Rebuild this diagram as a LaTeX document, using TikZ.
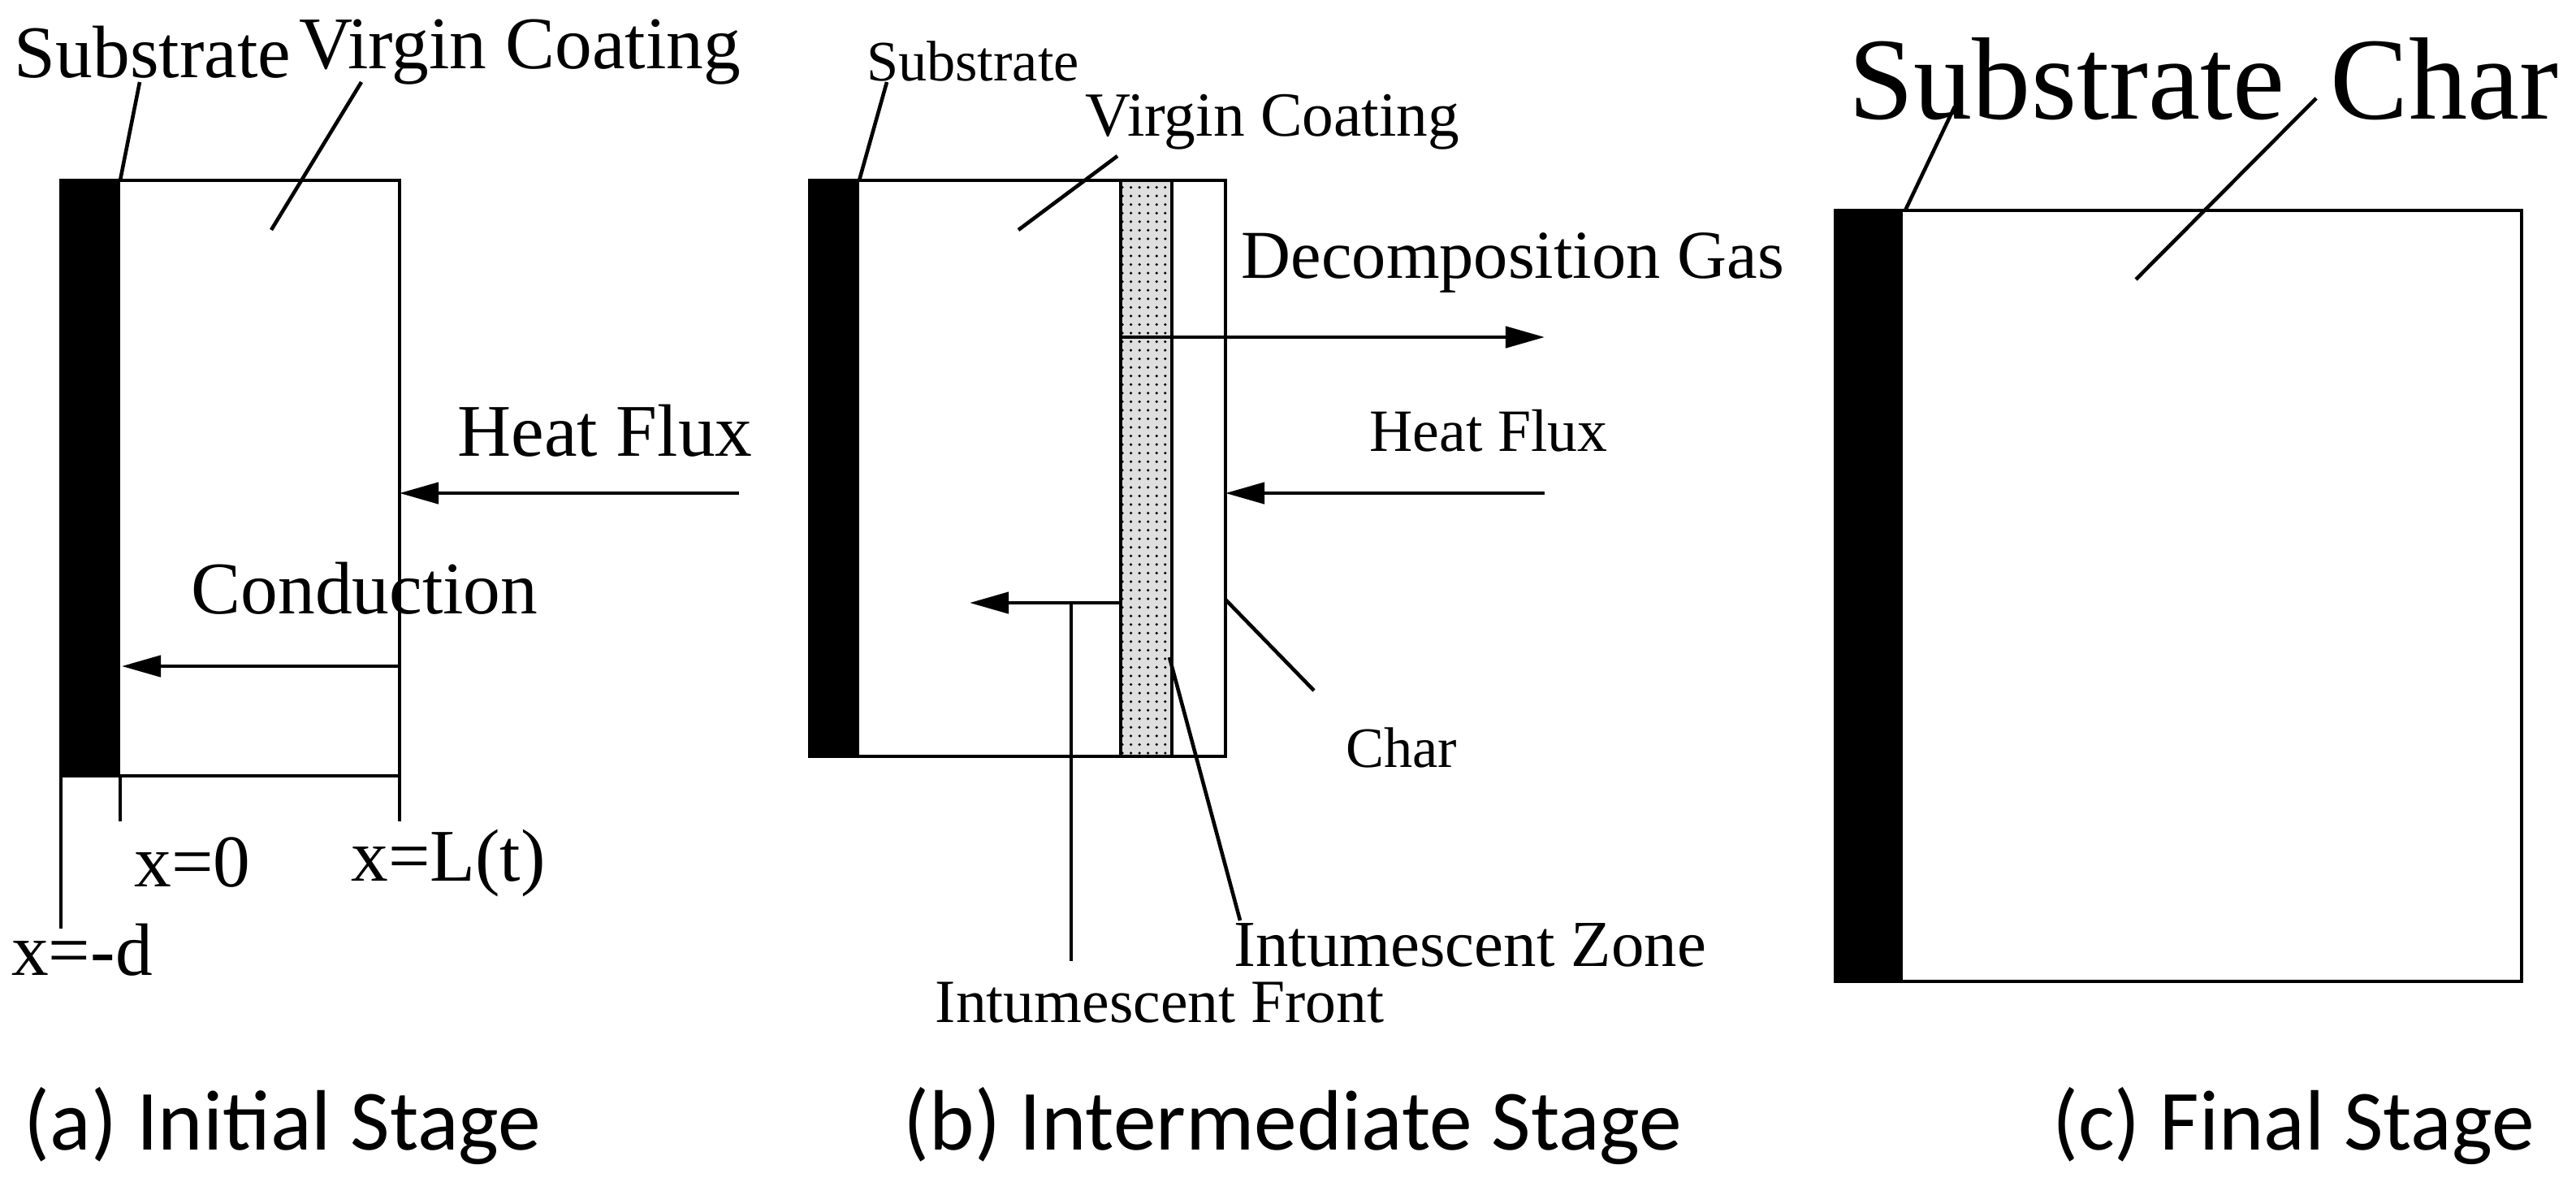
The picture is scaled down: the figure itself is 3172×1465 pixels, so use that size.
\documentclass[tikz,border=0pt]{standalone}
\usepackage{fontspec}
\setmainfont{Liberation Serif}
\newfontfamily\capfont{Carlito}
\usetikzlibrary{arrows.meta,patterns}
\begin{document}
\begin{tikzpicture}[x=0.01cm,y=-0.01cm,
  ln/.style={line width=1.3pt},
  arr/.style={ln,-{Triangle[length=0.48cm,width=0.26cm]}},
  ta/.style={font=\fontsize{26}{26}\selectfont,inner sep=0pt},
  tb/.style={font=\fontsize{20}{20}\selectfont,inner sep=0pt},
  tc/.style={font=\fontsize{41}{41}\selectfont,inner sep=0pt},
  captxt/.style={font=\capfont\fontsize{30}{30}\selectfont,inner sep=0pt}]
\useasboundingbox (0,0) rectangle (3172,1465);
% ---------- (a)
\fill (75,222) rectangle (148,955);
\draw[ln] (75,222) rectangle (492,955);
\draw[ln] (75,955) -- (75,1143);
\draw[ln] (148,955) -- (148,1011);
\draw[ln] (492,955) -- (492,1011);
\coordinate (aR) at (492,607);
\coordinate (aH) at (910,607);
\draw[arr] (aH) -- (aR);
\coordinate (aC1) at (492,820);
\coordinate (aC2) at (150,820);
\draw[arr] (aC1) -- (aC2);
\node[ta] (hfa) at (745,530) {Heat Flux};
\node[ta] (cond) at (449,724) {Conduction};
\node[ta] (x0) at (237,1062) {x=0};
\node[ta] (xL) at (552,1062) {x=L(t)};
\node[ta] (xd) at (101,1169) {x=-d};
\node[ta] (subA) at (188,64) {Substrate};
\node[ta] (virA) at (640,64) {Virgin Coating};
\draw[ln] (148,222) -- (172,101);
\draw[ln] (445,101) -- (334,283);
\node[captxt] (capA) at (348,1386) {(a) Initial Stage};
% ---------- (b)
\fill (997,222) rectangle (1058,931);
\fill[gray!25] (1380,222) rectangle (1443,931);
\fill[pattern=dots] (1380,222) rectangle (1443,931);
\draw[ln] (1380,222) -- (1380,931) (1443,222) -- (1443,931);
\draw[ln] (997,222) rectangle (1509,931);
\coordinate (bG1) at (1380,415);
\coordinate (bG2) at (1902,415);
\draw[arr] (bG1) -- (bG2);
\coordinate (bH1) at (1902,607);
\coordinate (bH2) at (1509,607);
\draw[arr] (bH1) -- (bH2);
\coordinate (bF1) at (1380,742);
\coordinate (bF2) at (1194,742);
\draw[arr] (bF1) -- (bF2);
\coordinate (bFv) at (1319,742);
\draw[ln] (bFv) -- (1319,1183);
\draw[ln] (1440,809) -- (1527,1133);
\draw[ln] (1509,738) -- (1618,850);
\draw[ln] (1058,222) -- (1092,101);
\draw[ln] (1376,192) -- (1254,283);
\node[tb] (subB) at (1198,75) {Substrate};
\node[tb,font=\fontsize{22}{22}\selectfont] (virB) at (1567,150) {Virgin Coating};
\node[tb,font=\fontsize{24}{24}\selectfont] (gas) at (1863,324) {Decomposition Gas};
\node[tb,font=\fontsize{21}{21}\selectfont] (hfb) at (1833,530) {Heat Flux};
\node[tb] (charB) at (1726,920) {Char};
\node[tb,font=\fontsize{23}{23}\selectfont] (zone) at (1810,1163) {Intumescent Zone};
\node[tb,font=\fontsize{21.5}{21.5}\selectfont] (front) at (1428,1234) {Intumescent Front};
\node[captxt] (capB) at (1592,1386) {(b) Intermediate Stage};
% ---------- (c)
\fill (2260,259) rectangle (2343,1208);
\draw[ln] (2260,259) rectangle (3105,1208);
\draw[ln] (2346,259) -- (2407,131);
\draw[ln] (2630,344) -- (2852,121);
\node[tc] (subC) at (2545,97) {Substrate};
\node[tc] (charC) at (3010,97) {Char};
\node[captxt] (capC) at (2824,1386) {(c) Final Stage};
\end{tikzpicture}
\end{document}
